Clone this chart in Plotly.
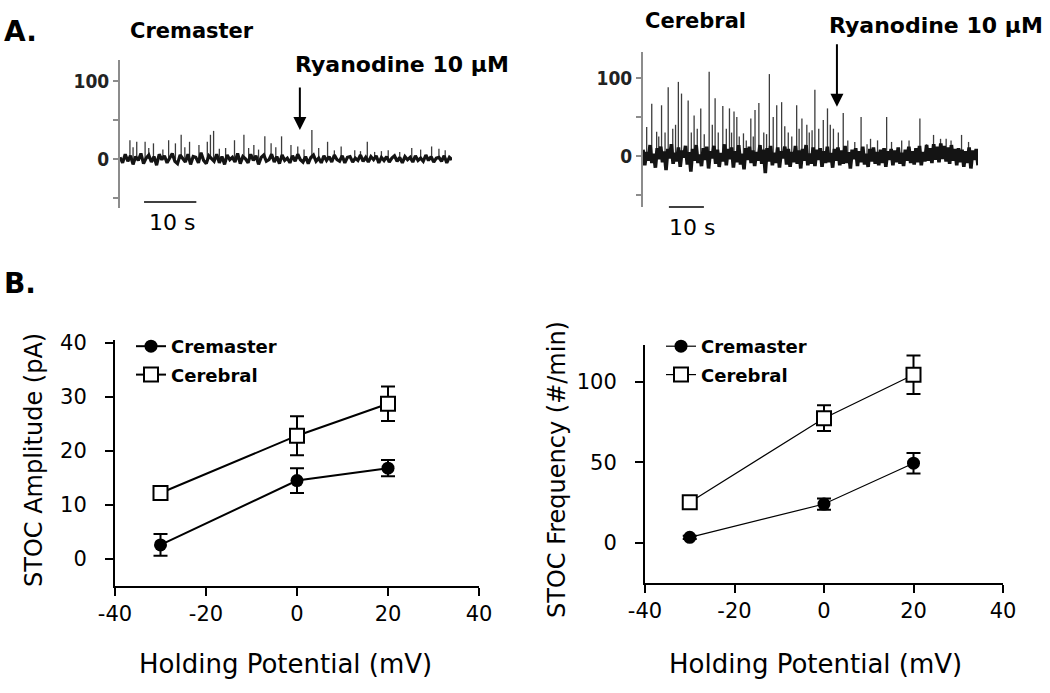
import numpy as np
import plotly.graph_objects as go

W, H = 1050, 693

# ---------------- Panel A: current traces (pA vs s) ----------------
crem_duration = 63.5
crem_noise = [2, -5, 6, -3, 4, -7, 3, -2, 7, -6, 1, 5, -4, 3, -8, 6, -1, 4, -5, 2,
              7, -3, -6, 5, 0, -4, 6, -7, 3, 2, -5, 8, -2, -6, 4, 1, -3, 6, -5, 3,
              -7, 5, -1, 2, -4, 7, -6, 3, 0, -5, 6, -2, 4, -7, 2, 5, -3, -1, 6, -4,
              3, -6, 5, -2, 1, -5, 4, -3, 6, -1, -4, 3, -6, 2, 5, -3, 1, -5, 4, -2,
              3, -4, 5, -1, -3, 4, -5, 2, 3, -4, 1, -2, 5, -3, 2, -4, 3, -1, 4, -5,
              2, -2, 3, -4, 1, 4, -3, 2, -5, 3, -1, 2, -4, 4, -2, 1, -3, 5, -2, 3,
              -4, 1, 2, -3, 4, -5, 2, -1]
crem_spike_t = [1.9, 3.2, 4.8, 6.4, 9.3, 10.6, 11.7, 13.3, 15.1, 16.7, 17.3, 17.9,
                20.2, 21.9, 23.7, 25.6, 27.7, 28.9, 30.9, 32.7, 34.0, 36.7, 39.7,
                42.3, 44.9, 47.3, 48.7, 51.3, 55.8, 59.6, 62.2,
                2.5, 5.5, 8.2, 12.4, 19.0, 24.6, 26.5, 29.8, 35.2, 38.0, 41.0, 46.0,
                50.0, 53.5, 57.5, 61.0]
crem_spike_amp = [24, 22, 22, 20, 24, 20, 31, 22, 18, 22, 31, 36,
                  14, 24, 31, 18, 29, 20, 29, 18, 16, 37, 22,
                  16, 11, 22, 9, 11, 14, 16, 11,
                  15, 14, 12, 15, 13, 14, 12, 15, 12, 14, 11, 10,
                  10, 9, 12, 13]

cere_duration = 95.7
cere_noise = [8, -12, 5, -6, 14, -9, 3, -15, 10, -4,
              12, -8, 6, -18, 9, -3, 15, -10, 4, -7,
              11, -14, 7, -2, 13, -11, 5, -20, 9, -6,
              14, -9, 2, -13, 10, -5, 12, -16, 6, -3,
              13, -10, 8, -14, 4, -7, 15, -12, 9, -4,
              11, -15, 6, -8, 14, -11, 3, -17, 10, -5,
              12, -9, 7, -13, 5, -6, 14, -10, 8, -22,
              10, -7, 13, -12, 4, -9, 11, -15, 6, -3,
              12, -11, 9, -14, 5, -8, 13, -10, 7, -16,
              9, -6, 14, -12, 3, -10, 11, -13, 8, -5,
              10, -14, 6, -9, 12, -8, 4, -15, 9, -6,
              11, -12, 7, -10, 13, -9, 5, -16, 8, -4,
              10, -13, 6, -8, 12, -11, 3, -14, 9, -7,
              11, -10, 5, -12, 8, -9, 10, -14, 6, -5,
              9, -12, 7, -8, 11, -10, 4, -13, 8, -6,
              12, -9, 6, -11, 10, -8, 13, -12, 5, -7,
              14, -6, 10, -9, 15, -5, 12, -8, 16, -4,
              13, -7, 11, -10, 14, -6, 9, -12, 10, -8,
              8, -14, 6, -9, 11, -16, 7, -5, 9, -12]
cere_spike_t = [1.05, 2.5, 3.9, 5.3, 7.2, 10.1, 11.0, 12.9, 14.6, 16.5, 18.9,
                20.6, 22.8, 24.7, 26.0, 26.8, 28.7, 30.8, 32.0, 33.1, 36.1,
                37.2, 38.2, 39.6, 43.9, 45.4, 46.8, 49.1, 51.5, 52.7, 54.4,
                57.2, 62.3, 65.0, 69.6, 73.9, 79.1, 83.0, 86.6, 91.0,
                4.5, 6.3, 8.5, 9.3, 13.8, 15.5, 17.5, 19.8, 21.5, 23.8, 25.3,
                27.5, 29.5, 31.5, 34.5, 35.3, 40.5, 41.5, 42.5, 44.6, 47.5,
                48.3, 50.2, 53.5, 55.8, 58.5, 60.5, 64.0, 67.0, 71.0, 76.0,
                81.0, 85.0, 88.0, 93.0]
cere_spike_amp = [37, 67, 31, 65, 88, 95, 80, 71, 52, 61, 108,
                  74, 64, 61, 57, 50, 29, 48, 59, 68, 105,
                  50, 65, 69, 65, 48, 40, 85, 46, 61, 35,
                  55, 50, 22, 50, 20, 48, 27, 22, 27,
                  25, 30, 35, 40, 30, 35, 28, 40, 30, 35, 30,
                  25, 20, 25, 30, 28, 38, 30, 25, 35, 30,
                  33, 35, 40, 30, 20, 18, 15, 20, 18, 20,
                  15, 22, 20, 18]

ryan_crem_t = 34.4      # ryanodine application (s)
ryan_cere_t = 55.4
scalebar_crem_start = 4.6
scalebar_cere_start = 7.4
scalebar_len = 10       # s

trace_ticks = [-50, 0, 50, 100]
trace_ticktext = ["", "0", "", "100"]

# ---------------- Panel B: summary data ----------------
potential = [-30, 0, 20]
amp_crem = [2.6, 14.5, 16.8]
amp_crem_err = [2.0, 2.3, 1.5]
amp_cere = [12.2, 22.8, 28.7]
amp_cere_err = [0.5, 3.6, 3.2]
freq_crem = [3.4, 24.1, 49.5]
freq_crem_err = [1.0, 3.5, 6.4]
freq_cere = [25.2, 77.5, 104.5]
freq_cere_err = [2.0, 8.0, 12.0]

x_ticks = [-40, -20, 0, 20, 40]
x_ticktext = ["-40", "-20", "0", "20", "40"]
amp_ticks = [0, 10, 20, 30, 40]
freq_ticks = [0, 50, 100]


def spikes_xy(st, sa):
    xs, ys = [], []
    for ti, ai in zip(st, sa):
        xs += [ti, ti, None]
        ys += [0, ai, None]
    return xs, ys


def px(x):
    return x / W


def py(y):
    return 1 - y / H


FONT = "DejaVu Sans"
fig = go.Figure()

# traces of panel A: noise band + spikes
for dur, noise, st, sa, xa, ya, bw in [
        (crem_duration, crem_noise, crem_spike_t, crem_spike_amp, "x", "y", 3.2),
        (cere_duration, cere_noise, cere_spike_t, cere_spike_amp, "x2", "y2", 3.6)]:
    sx, sy = spikes_xy(st, sa)
    fig.add_trace(go.Scatter(x=sx, y=sy, mode="lines", line=dict(color="#3c3c3c", width=1.3),
                             xaxis=xa, yaxis=ya, showlegend=False, hoverinfo="skip"))
    fig.add_trace(go.Scatter(x=np.linspace(0, dur, len(noise)), y=noise, mode="lines",
                             line=dict(color="#141414", width=bw),
                             xaxis=xa, yaxis=ya, showlegend=False, hoverinfo="skip"))

# panel B left
fig.add_trace(go.Scatter(x=potential, y=amp_crem, name="Cremaster", mode="lines+markers",
                         line=dict(color="black", width=2),
                         marker=dict(symbol="circle", size=13, color="black"),
                         error_y=dict(type="data", array=amp_crem_err, color="black", thickness=2, width=7),
                         xaxis="x3", yaxis="y3", legend="legend", legendgroup="a1"))
fig.add_trace(go.Scatter(x=potential, y=amp_cere, name="Cerebral", mode="lines+markers",
                         line=dict(color="black", width=2),
                         marker=dict(symbol="square", size=14, color="white", line=dict(color="black", width=2)),
                         error_y=dict(type="data", array=amp_cere_err, color="black", thickness=2, width=7),
                         xaxis="x3", yaxis="y3", legend="legend", legendgroup="a2"))
# panel B right
fig.add_trace(go.Scatter(x=potential, y=freq_crem, name="Cremaster", mode="lines+markers",
                         line=dict(color="black", width=1.2),
                         marker=dict(symbol="circle", size=13, color="black"),
                         error_y=dict(type="data", array=freq_crem_err, color="black", thickness=2, width=7),
                         xaxis="x4", yaxis="y4", legend="legend2", legendgroup="b1"))
fig.add_trace(go.Scatter(x=potential, y=freq_cere, name="Cerebral", mode="lines+markers",
                         line=dict(color="black", width=1.2),
                         marker=dict(symbol="square", size=14, color="white", line=dict(color="black", width=2)),
                         error_y=dict(type="data", array=freq_cere_err, color="black", thickness=2, width=7),
                         xaxis="x4", yaxis="y4", legend="legend2", legendgroup="b2"))

trace_yaxis = dict(showline=True, linecolor="#8c8c8c", linewidth=2, ticks="outside", ticklen=5,
                   tickwidth=1.5, tickcolor="#8c8c8c", tickvals=trace_ticks, ticktext=trace_ticktext,
                   tickfont=dict(family="Liberation Sans Narrow, DejaVu Sans Condensed, sans-serif",
                                 size=19, color="#222", weight="bold"),
                   showgrid=False, zeroline=False, fixedrange=True)
b_x = dict(showline=True, linecolor="black", linewidth=2, ticks="outside", ticklen=8, tickwidth=2,
           tickcolor="black", tickvals=x_ticks, ticktext=x_ticktext, range=[-40, 40],
           tickfont=dict(family=FONT, size=21, color="black"), showgrid=False, zeroline=False,
           ticklabelstandoff=0)
b_y = dict(showline=True, linecolor="black", linewidth=2, ticks="outside", ticklen=8, tickwidth=2,
           tickcolor="black", tickfont=dict(family=FONT, size=21, color="black"),
           showgrid=False, zeroline=False, ticklabelstandoff=14)

fig.update_layout(
    width=W, height=H, margin=dict(l=0, r=0, t=0, b=0),
    paper_bgcolor="white", plot_bgcolor="white", template="none",
    xaxis=dict(domain=[px(120), px(452)], range=[0, 63.5], visible=False),
    yaxis=dict(domain=[py(208), py(60)], range=[-63, 127], **trace_yaxis),
    xaxis2=dict(domain=[px(643), px(978)], range=[0, 95.7], visible=False),
    yaxis2=dict(domain=[py(207), py(52)], range=[-65.4, 133.3], anchor="x2", **trace_yaxis),
    xaxis3=dict(domain=[px(115), px(479)], anchor="y3", **b_x),
    yaxis3=dict(domain=[py(586), py(340)], range=[-5, 40.5], anchor="x3", tickvals=amp_ticks, **b_y),
    xaxis4=dict(domain=[px(645), px(1003)], anchor="y4", **b_x),
    yaxis4=dict(domain=[py(583), py(345)], range=[-25, 123], anchor="x4", tickvals=freq_ticks, **b_y),
    legend=dict(x=px(131), y=py(328), xanchor="left", yanchor="top", bgcolor="rgba(0,0,0,0)",
                font=dict(family=FONT, size=18, color="black", weight="bold"), tracegroupgap=2,
                itemwidth=30),
    legend2=dict(x=px(661), y=py(328), xanchor="left", yanchor="top", bgcolor="rgba(0,0,0,0)",
                 font=dict(family=FONT, size=18, color="black", weight="bold"), tracegroupgap=2,
                 itemwidth=30),
    showlegend=True,
)

ann = []


def text(x, y, s, size, bold=False, angle=0):
    ann.append(dict(x=px(x), y=py(y), xref="paper", yref="paper", text=s, showarrow=False,
                    font=dict(family=FONT, size=size, color="black", weight="bold" if bold else "normal"),
                    xanchor="center", yanchor="middle", textangle=angle))


text(20, 31, "A.", 28, bold=True)
text(20, 283, "B.", 28, bold=True)
text(192, 31, "Cremaster", 21, bold=True)
text(695, 21, "Cerebral", 21, bold=True)
text(402, 64, "Ryanodine 10 μM", 22, bold=True)
text(936, 26, "Ryanodine 10 μM", 22, bold=True)
text(172, 222, "10 s", 22)
text(692, 228, "10 s", 22)
text(285, 664, "Holding Potential (mV)", 26)
text(815, 664, "Holding Potential (mV)", 26)
text(34, 460, "STOC Amplitude (pA)", 24, angle=-90)
text(557, 470, "STOC Frequency (#/min)", 24, angle=-90)

# ryanodine arrows (tip at trace level)
ann.append(dict(x=ryan_crem_t, y=37, xref="x", yref="y", ax=0, ay=-44, text="", showarrow=True,
                arrowhead=2, arrowsize=1.3, arrowwidth=2, arrowcolor="black"))
ann.append(dict(x=ryan_cere_t, y=63, xref="x2", yref="y2", ax=0, ay=-64, text="", showarrow=True,
                arrowhead=2, arrowsize=1.3, arrowwidth=2, arrowcolor="black"))
fig.update_layout(annotations=ann)

# 10 s scale bars
fig.add_shape(type="line", xref="x", yref="paper", x0=scalebar_crem_start,
              x1=scalebar_crem_start + scalebar_len, y0=py(202), y1=py(202),
              line=dict(color="black", width=1.5))
fig.add_shape(type="line", xref="x2", yref="paper", x0=scalebar_cere_start,
              x1=scalebar_cere_start + scalebar_len, y0=py(207), y1=py(207),
              line=dict(color="black", width=1.5))

fig.write_html("out.html", config={"displayModeBar": False},
               post_script="document.body.style.margin='0px';document.body.style.overflow='hidden';")
